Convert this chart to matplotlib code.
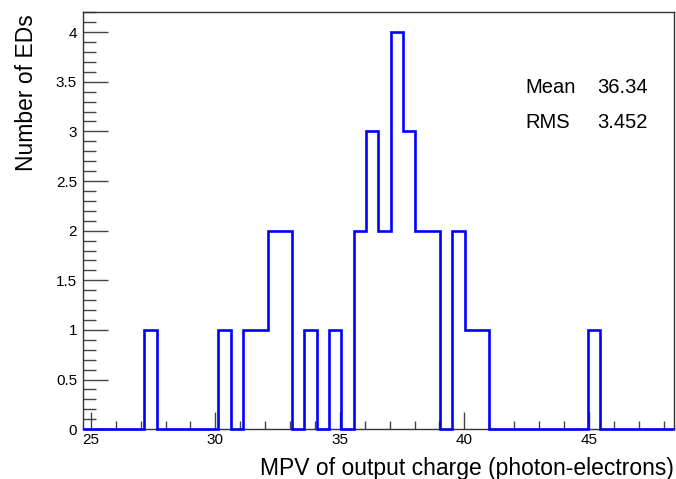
import numpy as np
import matplotlib
matplotlib.use("Agg")
import matplotlib.pyplot as plt
from matplotlib.ticker import MultipleLocator, FuncFormatter

plt.rcParams['font.family'] = ['Liberation Sans', 'DejaVu Sans']

# histogram binning
x_min = 24.67
bin_width = 0.495
counts = [0, 0, 0, 0, 0, 1, 0, 0, 0, 0,
          0, 1, 0, 1, 1, 2, 2, 0, 1, 0,
          1, 0, 2, 3, 2, 4, 3, 2, 2, 0,
          2, 1, 1, 0, 0, 0, 0, 0, 0, 0,
          0, 1, 0, 0, 0, 0, 0, 0]
mean_val = "36.34"
rms_val = "3.452"

edges = x_min + bin_width * np.arange(len(counts) + 1)

fig = plt.figure(figsize=(6.76, 4.79), dpi=100)
ax = fig.add_axes([0.1222, 0.1040, 0.8753, 0.8703])

ax.stairs(counts, edges, color=(0, 0, 1), linewidth=1.9, baseline=0,
          zorder=5, clip_on=False)

ax.set_xlim(edges[0], edges[-1])
ax.set_ylim(0, 4.2)

ax.xaxis.set_major_locator(MultipleLocator(5))
ax.xaxis.set_minor_locator(MultipleLocator(1))
ax.yaxis.set_major_locator(MultipleLocator(0.5))
ax.yaxis.set_minor_locator(MultipleLocator(0.1))
ax.yaxis.set_major_formatter(FuncFormatter(lambda v, p: "%g" % v))

ax.tick_params(axis='x', which='major', direction='in', length=12, width=1,
               color='#444444', labelsize=11, pad=3)
ax.tick_params(axis='x', which='minor', direction='in', length=6, width=1,
               color='#444444')
ax.tick_params(axis='y', which='major', direction='in', length=18, width=1,
               color='#444444', labelsize=11, pad=4)
ax.tick_params(axis='y', which='minor', direction='in', length=9, width=1,
               color='#444444')
for s in ax.spines.values():
    s.set_color('#333333')
    s.set_linewidth(1.0)

ax.set_xlabel("MPV of output charge (photon-electrons)", fontsize=16.5)
ax.xaxis.set_label_coords(1.0, -0.066)
ax.xaxis.label.set_horizontalalignment('right')
ax.set_ylabel("Number of EDs", fontsize=16.5)
ax.yaxis.set_label_coords(-0.075, 0.995)
ax.yaxis.label.set_horizontalalignment('right')

fig.text(525 / 676, 1 - 93 / 479, "Mean", fontsize=14.5, va='baseline')
fig.text(648 / 676, 1 - 93 / 479, mean_val, fontsize=14.5, va='baseline', ha='right')
fig.text(525 / 676, 1 - 128 / 479, "RMS", fontsize=14.5, va='baseline')
fig.text(648 / 676, 1 - 128 / 479, rms_val, fontsize=14.5, va='baseline', ha='right')

fig.savefig("out.png", dpi=100)
